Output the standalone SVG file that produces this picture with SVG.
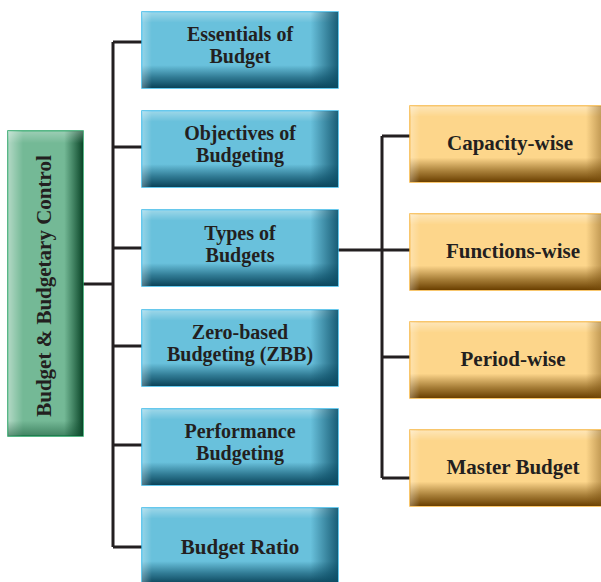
<svg xmlns="http://www.w3.org/2000/svg" width="601" height="582" viewBox="0 0 601 582">
<defs>
<linearGradient id="bBot" x1="0" y1="0" x2="0" y2="1">
<stop offset="0" stop-color="#ffffff" stop-opacity="0.35"/>
<stop offset="0.14" stop-color="#ffffff" stop-opacity="0"/>
<stop offset="0.7" stop-color="#0b4c64" stop-opacity="0"/>
<stop offset="0.86" stop-color="#0b4c64" stop-opacity="0.6"/>
<stop offset="1" stop-color="#0a4258" stop-opacity="1"/>
</linearGradient>
<linearGradient id="bSide" x1="0" y1="0" x2="1" y2="0">
<stop offset="0" stop-color="#ffffff" stop-opacity="0.3"/>
<stop offset="0.05" stop-color="#ffffff" stop-opacity="0"/>
<stop offset="0.86" stop-color="#0b4c64" stop-opacity="0"/>
<stop offset="1" stop-color="#0b4c64" stop-opacity="0.85"/>
</linearGradient>
<linearGradient id="oBot" x1="0" y1="0" x2="0" y2="1">
<stop offset="0" stop-color="#ffffff" stop-opacity="0.4"/>
<stop offset="0.14" stop-color="#ffffff" stop-opacity="0"/>
<stop offset="0.68" stop-color="#6e4300" stop-opacity="0"/>
<stop offset="0.86" stop-color="#6e4300" stop-opacity="0.6"/>
<stop offset="1" stop-color="#6a3f00" stop-opacity="1"/>
</linearGradient>
<linearGradient id="oSide" x1="0" y1="0" x2="1" y2="0">
<stop offset="0" stop-color="#ffffff" stop-opacity="0.3"/>
<stop offset="0.05" stop-color="#ffffff" stop-opacity="0"/>
<stop offset="0.88" stop-color="#7a5010" stop-opacity="0"/>
<stop offset="1" stop-color="#7a5010" stop-opacity="0.7"/>
</linearGradient>
<linearGradient id="gSide" x1="0" y1="0" x2="1" y2="0">
<stop offset="0" stop-color="#ffffff" stop-opacity="0.45"/>
<stop offset="0.2" stop-color="#ffffff" stop-opacity="0"/>
<stop offset="0.75" stop-color="#0d4d2e" stop-opacity="0"/>
<stop offset="1" stop-color="#0b4528" stop-opacity="1"/>
</linearGradient>
<linearGradient id="gBot" x1="0" y1="0" x2="0" y2="1">
<stop offset="0" stop-color="#ffffff" stop-opacity="0.3"/>
<stop offset="0.04" stop-color="#ffffff" stop-opacity="0"/>
<stop offset="0.95" stop-color="#0d4d2e" stop-opacity="0"/>
<stop offset="1" stop-color="#0d4d2e" stop-opacity="0.5"/>
</linearGradient>
</defs>
<style>
.lbl{font-family:"Liberation Serif","Times New Roman",serif;font-weight:bold;font-size:20px;fill:#231f20;text-anchor:middle}
.big{font-size:21px}
.bb{fill:#69c1dc;stroke:#36b7e6;stroke-width:1.5}
.ob{fill:#fdd68b;stroke:#f6b43c;stroke-width:1.5}
.gb{fill:#74b996;stroke:#22a060;stroke-width:1.5}
.con{stroke:#231f20;stroke-width:3;fill:none}
</style>
<g id="connectors">
<path class="con" d="M83 284 H113 M113 42 V547 M113 42 H142 M113 147 H142 M113 248 H142 M113 346 H142 M113 445 H142 M113 547 H142"/>
<path class="con" d="M338 250 H410 M382 136 V478 M382 136 H410 M382 250 H410 M382 357 H410 M382 478 H410"/>
</g>
<g id="root">
<rect class="gb" x="8" y="131" width="75" height="305"/>
<rect x="8" y="131" width="75" height="305" fill="url(#gSide)"/>
<rect x="8" y="131" width="75" height="305" fill="url(#gBot)"/>
<text class="lbl big" transform="translate(51 286) rotate(-90)">Budget &amp; Budgetary Control</text>
</g>
<g id="essentials">
<rect class="bb" x="142" y="12" width="196" height="76"/>
<rect x="142" y="12" width="196" height="76" fill="url(#bBot)"/>
<rect x="142" y="12" width="196" height="76" fill="url(#bSide)"/>
<text class="lbl" x="240" y="41">Essentials of</text>
<text class="lbl" x="240" y="63">Budget</text>
</g>
<g id="objectives">
<rect class="bb" x="142" y="111" width="196" height="76"/>
<rect x="142" y="111" width="196" height="76" fill="url(#bBot)"/>
<rect x="142" y="111" width="196" height="76" fill="url(#bSide)"/>
<text class="lbl" x="240" y="140">Objectives of</text>
<text class="lbl" x="240" y="162">Budgeting</text>
</g>
<g id="types">
<rect class="bb" x="142" y="210" width="196" height="76"/>
<rect x="142" y="210" width="196" height="76" fill="url(#bBot)"/>
<rect x="142" y="210" width="196" height="76" fill="url(#bSide)"/>
<text class="lbl" x="240" y="240">Types of</text>
<text class="lbl" x="240" y="262">Budgets</text>
</g>
<g id="zbb">
<rect class="bb" x="142" y="310" width="196" height="76"/>
<rect x="142" y="310" width="196" height="76" fill="url(#bBot)"/>
<rect x="142" y="310" width="196" height="76" fill="url(#bSide)"/>
<text class="lbl" x="240" y="339">Zero-based</text>
<text class="lbl" x="240" y="361">Budgeting (ZBB)</text>
</g>
<g id="performance">
<rect class="bb" x="142" y="409" width="196" height="76"/>
<rect x="142" y="409" width="196" height="76" fill="url(#bBot)"/>
<rect x="142" y="409" width="196" height="76" fill="url(#bSide)"/>
<text class="lbl" x="240" y="438">Performance</text>
<text class="lbl" x="240" y="460">Budgeting</text>
</g>
<g id="ratio">
<rect class="bb" x="142" y="508" width="196" height="76"/>
<rect x="142" y="508" width="196" height="76" fill="url(#bBot)"/>
<rect x="142" y="508" width="196" height="76" fill="url(#bSide)"/>
<text class="lbl big" x="240" y="554">Budget Ratio</text>
</g>
<g id="capacity">
<rect class="ob" x="410" y="106" width="200" height="76"/>
<rect x="410" y="106" width="200" height="76" fill="url(#oBot)"/>
<rect x="410" y="106" width="200" height="76" fill="url(#oSide)"/>
<text class="lbl big" x="510" y="150">Capacity-wise</text>
</g>
<g id="functions">
<rect class="ob" x="410" y="214" width="200" height="76"/>
<rect x="410" y="214" width="200" height="76" fill="url(#oBot)"/>
<rect x="410" y="214" width="200" height="76" fill="url(#oSide)"/>
<text class="lbl big" x="513" y="258">Functions-wise</text>
</g>
<g id="period">
<rect class="ob" x="410" y="322" width="200" height="76"/>
<rect x="410" y="322" width="200" height="76" fill="url(#oBot)"/>
<rect x="410" y="322" width="200" height="76" fill="url(#oSide)"/>
<text class="lbl big" x="513" y="366">Period-wise</text>
</g>
<g id="master">
<rect class="ob" x="410" y="430" width="200" height="76"/>
<rect x="410" y="430" width="200" height="76" fill="url(#oBot)"/>
<rect x="410" y="430" width="200" height="76" fill="url(#oSide)"/>
<text class="lbl big" x="513" y="474">Master Budget</text>
</g>
</svg>
